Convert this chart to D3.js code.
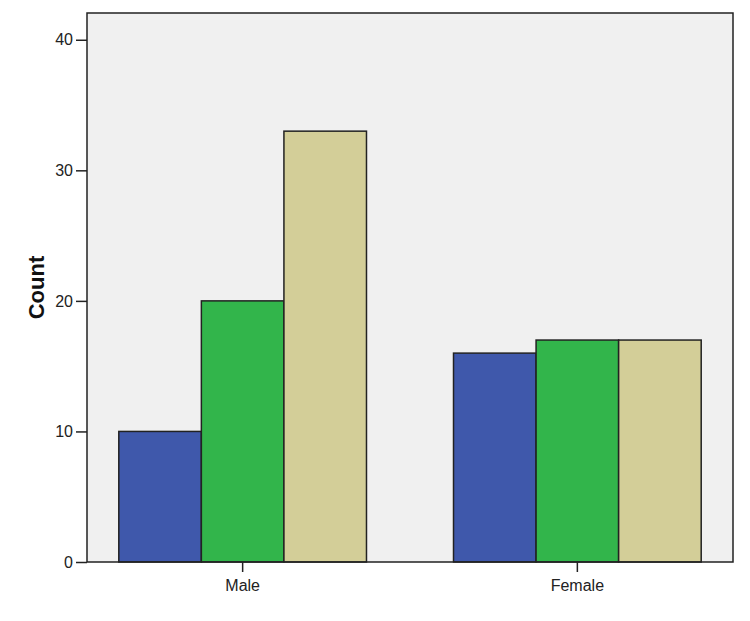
<!DOCTYPE html>
<html>
<head>
<meta charset="utf-8">
<script src="https://cdn.jsdelivr.net/npm/d3@7"></script>
<style>
  body { margin: 0; background: #fff; }
  svg { display: block; font-family: "Liberation Sans", Arial, sans-serif; }
</style>
</head>
<body>
<svg id="chart" width="750" height="621"></svg>
<script>
// clustered bar chart: count by gender

const categories = ["Male", "Female"];
const seriesNames = ["s1", "s2", "s3"];
const seriesColors = ["#3f58ab", "#32b54b", "#d3ce98"];
const maleCounts = [10, 20, 33];
const femaleCounts = [16, 17, 17];
const yTicks = [0, 10, 20, 30, 40];

const counts = { Male: maleCounts, Female: femaleCounts };

const svg = d3.select("#chart");
const width = 750;
const height = 621;
const margin = { top: 13, right: 17, bottom: 59, left: 87 };

const x = d3.scaleBand()
  .domain(categories)
  .range([margin.left, width - margin.right])
  .paddingInner(0.26)
  .paddingOuter(0.095);

const xSub = d3.scaleBand()
  .domain(seriesNames)
  .range([0, x.bandwidth()]);

const y = d3.scaleLinear()
  .domain([0, 42.05])
  .range([height - margin.bottom, margin.top]);

// plot background
svg.append("rect")
  .attr("x", margin.left)
  .attr("y", margin.top)
  .attr("width", width - margin.left - margin.right)
  .attr("height", height - margin.top - margin.bottom)
  .attr("fill", "#f0f0f0");

// bars
const groups = svg.selectAll(".grp")
  .data(categories)
  .join("g")
  .attr("class", "grp")
  .attr("transform", d => `translate(${x(d)},0)`);

groups.selectAll("rect")
  .data(d => counts[d].map((v, i) => ({ key: seriesNames[i], value: v, i })))
  .join("rect")
  .attr("x", d => xSub(d.key))
  .attr("y", d => y(d.value))
  .attr("width", xSub.bandwidth())
  .attr("height", d => y(0) - y(d.value))
  .attr("fill", d => seriesColors[d.i])
  .attr("stroke", "#222")
  .attr("stroke-width", 1.5);

// frame
svg.append("rect")
  .attr("x", margin.left)
  .attr("y", margin.top)
  .attr("width", width - margin.left - margin.right)
  .attr("height", height - margin.top - margin.bottom)
  .attr("fill", "none")
  .attr("stroke", "#222")
  .attr("stroke-width", 1.5);

// y axis
const yAxis = svg.append("g")
  .attr("transform", `translate(${margin.left},0)`)
  .call(d3.axisLeft(y).tickValues(yTicks).tickSize(11).tickPadding(3));
yAxis.select(".domain").remove();
yAxis.selectAll("line").attr("stroke", "#222").attr("stroke-width", 1.5);
yAxis.selectAll("text")
  .attr("fill", "#222")
  .style("font-size", "16px");

// x axis
const xAxis = svg.append("g")
  .attr("transform", `translate(0,${height - margin.bottom})`)
  .call(d3.axisBottom(x).tickSize(10).tickPadding(8));
xAxis.select(".domain").remove();
xAxis.selectAll("line").attr("stroke", "#222").attr("stroke-width", 1.5);
xAxis.selectAll("text")
  .attr("fill", "#222")
  .style("font-size", "16px");

// y label
svg.append("text")
  .attr("transform", `translate(44,${(margin.top + height - margin.bottom) / 2}) rotate(-90)`)
  .attr("text-anchor", "middle")
  .attr("fill", "#111")
  .style("font-size", "22px")
  .style("font-weight", "bold")
  .text("Count");
</script>
</body>
</html>
